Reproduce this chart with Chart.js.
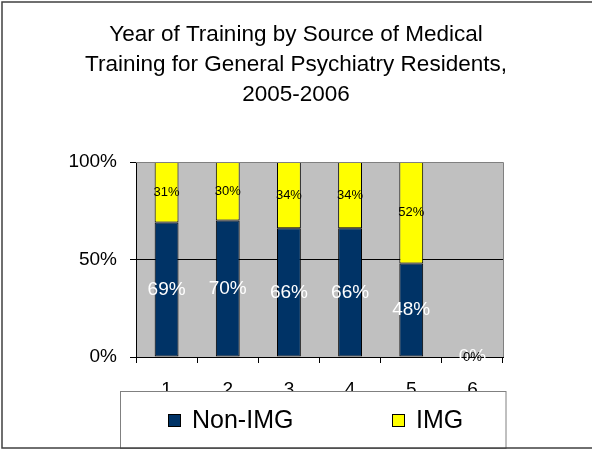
<!DOCTYPE html>
<html>
<head>
<meta charset="utf-8">
<script src="https://cdn.jsdelivr.net/npm/chart.js@4/dist/chart.umd.min.js"></script>
<style>
  html, body { margin: 0; padding: 0; background: #ffffff; }
  #wrap { width: 592px; height: 450px; position: relative; }
</style>
</head>
<body>
<div id="wrap"><canvas id="trainingChart"></canvas></div>
<script>
// Year of training (PGY) categories
const years = ['1', '2', '3', '4', '5', '6'];
// Share of residents, percent
const nonImgShare = [69, 70, 66, 66, 48, 0];
const imgShare = [31, 30, 34, 34, 52, 0];
const yTicks = [0, 50, 100];

const titleLines = [
    'Year of Training by Source of Medical',
    'Training for General Psychiatry Residents,',
    '2005-2006'
];

const FONT = "'Liberation Sans', Arial, sans-serif";

// gray plot area + top/right border
const backdropPlugin = {
    id: 'backdrop',
    beforeDraw(chart) {
        const ctx = chart.ctx;
        const area = chart.chartArea;
        ctx.save();
        ctx.fillStyle = '#ffffff';
        ctx.fillRect(0, 0, chart.width, chart.height);
        ctx.fillStyle = '#c0c0c0';
        ctx.fillRect(area.left, area.top, area.right - area.left, area.bottom - area.top);
        ctx.restore();
    },
    afterDatasetsDraw(chart) {
        const ctx = chart.ctx;
        const area = chart.chartArea;
        ctx.save();
        ctx.strokeStyle = '#808080';
        ctx.lineWidth = 1;
        ctx.beginPath();
        ctx.moveTo(area.left, area.top + 0.5);
        ctx.lineTo(area.right + 0.5, area.top + 0.5);
        ctx.lineTo(area.right + 0.5, area.bottom);
        ctx.stroke();
        ctx.restore();
    }
};

// percent labels centred on each segment
const valueLabelPlugin = {
    id: 'valueLabels',
    afterDatasetsDraw(chart) {
        const ctx = chart.ctx;
        ctx.save();
        ctx.textAlign = 'center';
        ctx.textBaseline = 'middle';
        chart.data.datasets.forEach((ds, i) => {
            const meta = chart.getDatasetMeta(i);
            ctx.fillStyle = ds.labelColor;
            ctx.font = ds.labelSize + 'px ' + FONT;
            meta.data.forEach((bar, j) => {
                const y = (bar.y + bar.base) / 2;
                ctx.fillText(ds.data[j] + '%', bar.x, y);
            });
        });
        ctx.restore();
    }
};

// boxed legend that sits over the bottom of the axis labels
const boxLegendPlugin = {
    id: 'boxLegend',
    afterDraw(chart) {
        const ctx = chart.ctx;
        ctx.save();
        ctx.fillStyle = '#ffffff';
        ctx.fillRect(121, 391.5, 385, 57);
        ctx.strokeStyle = '#808080';
        ctx.lineWidth = 1;
        ctx.strokeRect(120.5, 391.5, 385.5, 57);

        const itemX = [168, 392];
        ctx.font = '25px ' + FONT;
        ctx.textBaseline = 'middle';
        ctx.textAlign = 'left';
        chart.data.datasets.forEach((ds, i) => {
            const x = itemX[i];
            ctx.fillStyle = ds.backgroundColor;
            ctx.fillRect(x, 414, 13, 13);
            ctx.strokeStyle = '#000000';
            ctx.strokeRect(x + 0.5, 414.5, 12, 12);
            ctx.fillStyle = '#000000';
            ctx.fillText(ds.label, x + 24, 421);
        });

        // outer frame of the chart
        ctx.strokeStyle = '#404040';
        ctx.lineWidth = 1.5;
        ctx.strokeRect(2, 2, 620, 446);
        ctx.restore();
    }
};

const config = {
    type: 'bar',
    data: {
        labels: years,
        datasets: [
            {
                label: 'Non-IMG',
                data: nonImgShare,
                backgroundColor: '#003366',
                borderColor: '#000000',
                borderWidth: (c) => (c.raw ? 1 : 0),
                borderSkipped: false,
                labelColor: '#ffffff',
                labelSize: 19
            },
            {
                label: 'IMG',
                data: imgShare,
                backgroundColor: '#ffff00',
                borderColor: '#000000',
                borderWidth: (c) => (c.raw ? 1 : 0),
                borderSkipped: false,
                labelColor: '#000000',
                labelSize: 13
            }
        ]
    },
    options: {
        responsive: true,
        maintainAspectRatio: false,
        animation: false,
        layout: {
            padding: 0
        },
        datasets: {
            bar: {
                categoryPercentage: 1.0,
                barPercentage: 0.39
            }
        },
        plugins: {
            legend: { display: false },
            tooltip: { enabled: false },
            title: {
                display: true,
                text: titleLines,
                color: '#000000',
                font: { family: FONT, size: 22.5, weight: 'normal', lineHeight: 1.3334 },
                padding: { top: 20, bottom: 52 }
            }
        },
        scales: {
            x: {
                stacked: true,
                afterFit: (scale) => { scale.height = 93; },
                border: { display: true, color: '#000000', width: 1 },
                grid: {
                    offset: true,
                    drawOnChartArea: false,
                    drawTicks: true,
                    tickLength: 6,
                    tickColor: '#000000'
                },
                ticks: {
                    color: '#000000',
                    padding: 15,
                    maxRotation: 0,
                    font: { family: FONT, size: 19 }
                }
            },
            y: {
                stacked: true,
                min: 0,
                max: 100,
                afterFit: (scale) => { scale.width = 136; },
                afterBuildTicks: (scale) => {
                    scale.ticks = yTicks.map(v => ({ value: v }));
                },
                border: { display: true, color: '#000000', width: 1 },
                grid: {
                    color: (c) => (c.tick && c.tick.value === 100 ? '#808080' : '#000000'),
                    tickColor: '#000000',
                    tickLength: 6
                },
                ticks: {
                    color: '#000000',
                    padding: 13,
                    font: { family: FONT, size: 19 },
                    callback: (v) => v + '%'
                }
            },
            // empty right-hand spacer so the title stays centred on the page
            spacer: {
                type: 'linear',
                position: 'right',
                display: true,
                afterFit: (scale) => { scale.width = 89; },
                grid: { display: false },
                border: { display: false },
                ticks: { display: false }
            }
        }
    },
    plugins: [backdropPlugin, valueLabelPlugin, boxLegendPlugin]
};

new Chart(document.getElementById('trainingChart'), config);
</script>
</body>
</html>
